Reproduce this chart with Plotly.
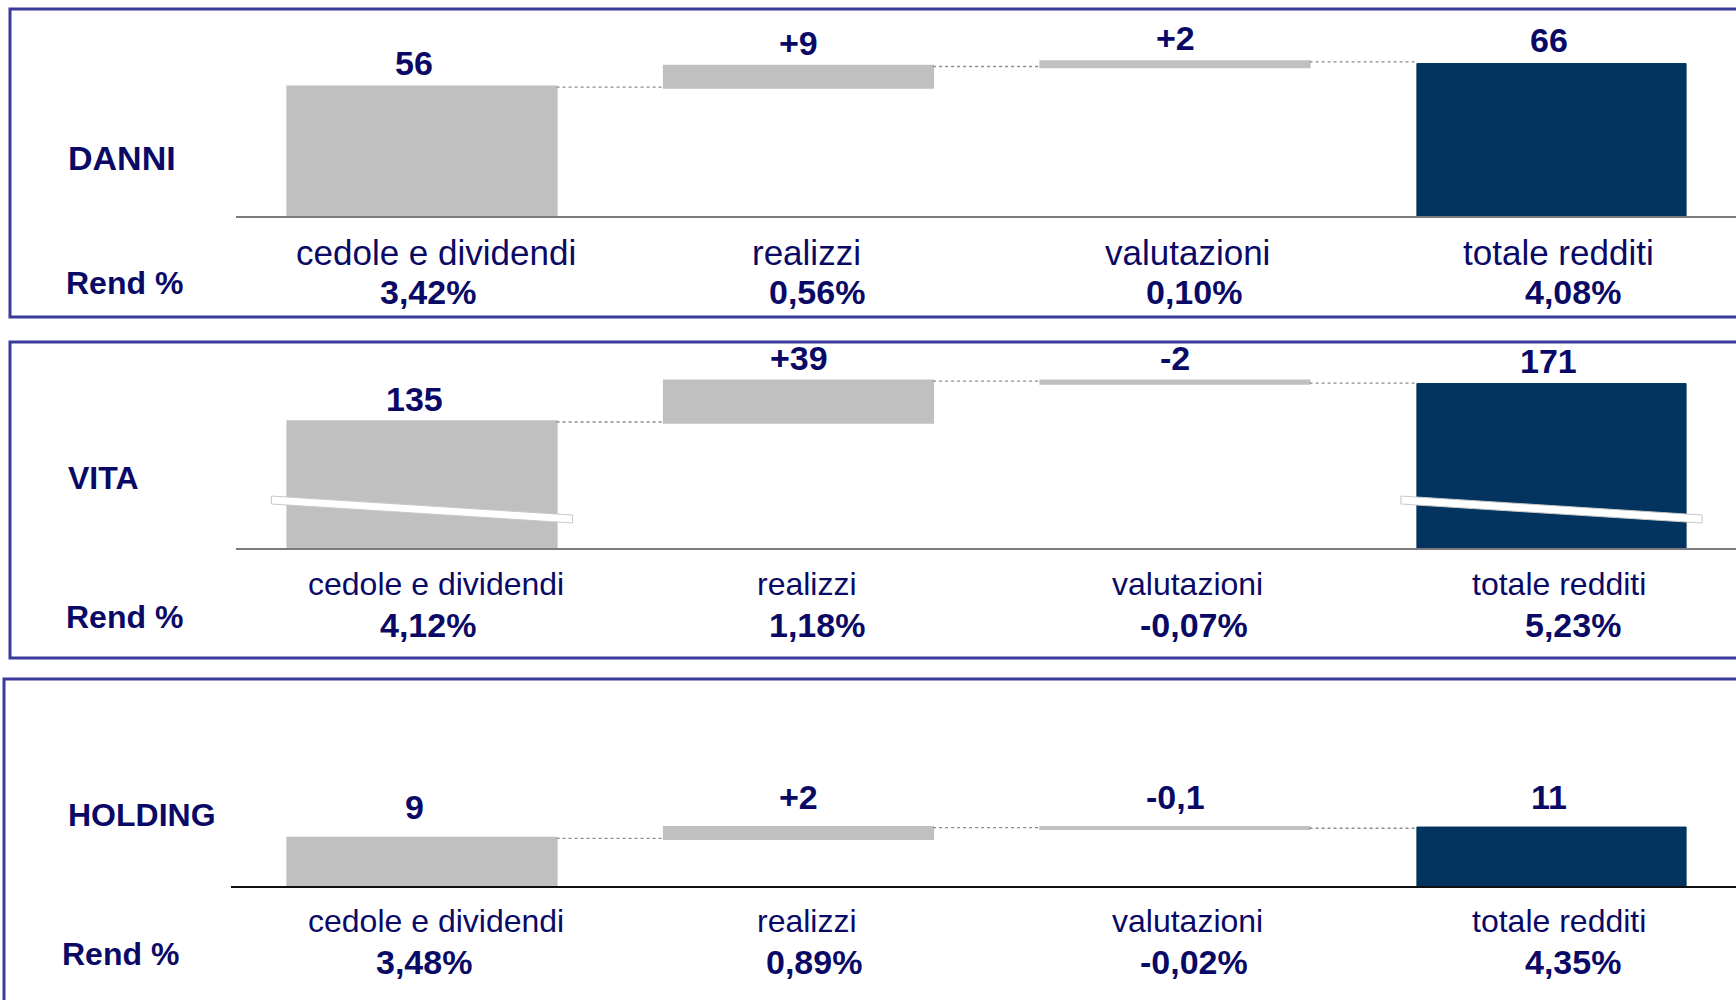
import plotly.graph_objects as go

# ---------------- data ----------------
categories = ["cedole e dividendi", "realizzi", "valutazioni", "totale redditi"]
measures = ["relative", "relative", "relative", "absolute"]

danni_values = [56, 9, 2, 66]
vita_values = [135, 39, -2, 171]
holding_values = [9, 2, -0.1, 11]

danni_rend = ["3,42%", "0,56%", "0,10%", "4,08%"]
vita_rend = ["4,12%", "1,18%", "-0,07%", "5,23%"]
holding_rend = ["3,48%", "0,89%", "-0,02%", "4,35%"]

segment_names = ["DANNI", "VITA", "HOLDING"]
rend_label = "Rend %"

# ---------------- styles / layout ----------------
W, H = 1736, 1000
FONT = "Liberation Sans, Arial, sans-serif"
NAVY_TXT = "#0a0a66"
GREY_BAR = "#c0c0c0"
NAVY_BAR = "#02345f"
FRAME = "#3a3a9a"

PX_PER_CAT = 376.5
CENTER0 = 422
cat_xshift = [14, 8, 12, 7]
pct_xshift = [6, 18, 19, 21]
val_xshift = [-8, 0, 0, -3]

panel_styles = [
    dict(frame=(10, 9, 317), top=20, base=216, ymin=0, pxu=2.3, name_y=158, rend_y=283,
         cat_y=252, pct_y=292, name_size=34, cat_size=35, x_left=236, line="#7a7a7a", lw=2,
         name_x=66, rend_x=64, brk=False, val_dy=3, pct_adj=[0, 0, 0, 0]),
    dict(frame=(10, 342, 658), top=345, base=548, ymin=15, pxu=1.05, name_y=478, rend_y=617,
         cat_y=584, pct_y=625, name_size=32, cat_size=32, x_left=236, line="#7a7a7a", lw=2,
         name_x=66, rend_x=64, brk=True, val_dy=2, pct_adj=[0, 0, 0, 0]),
    dict(frame=(4, 679, 1020), top=690, base=886, ymin=0, pxu=5.3, name_y=815, rend_y=954,
         cat_y=921, pct_y=962, name_size=32, cat_size=32, x_left=231, line="#111111", lw=1.5,
         name_x=66, rend_x=60, brk=False, val_dy=10, pct_adj=[-4, -3, 0, 0]),
]

all_values = [danni_values, vita_values, holding_values]
all_rend = [danni_rend, vita_rend, holding_rend]


def fmt_label(v, m, i):
    s = f"{v:g}".replace(".", ",")
    if m == "relative" and i > 0 and v > 0:
        s = "+" + s
    return s


fig = go.Figure()
annotations = []
shapes = []
layout_axes = {}

for p, (name, vals, rend, st) in enumerate(zip(segment_names, all_values, all_rend, panel_styles)):
    sfx = "" if p == 0 else str(p + 1)
    xa, ya = "x" + sfx, "y" + sfx

    fig.add_trace(go.Waterfall(
        x=list(range(len(categories))), y=vals, measure=measures,
        width=0.715, textinfo="none", hoverinfo="skip",
        increasing=dict(marker=dict(color=GREY_BAR, line=dict(color=GREY_BAR, width=2))),
        decreasing=dict(marker=dict(color=GREY_BAR, line=dict(color=GREY_BAR, width=2))),
        totals=dict(marker=dict(color=NAVY_BAR, line=dict(color=NAVY_BAR, width=1))),
        connector=dict(line=dict(color="#8c8c8c", width=1.3, dash="dot")),
        xaxis=xa, yaxis=ya, showlegend=False,
    ))

    # axes
    ytop = st["ymin"] + (st["base"] - st["top"]) / st["pxu"]
    layout_axes["xaxis" + sfx] = dict(
        domain=[st["x_left"] / W, 1],
        range=[(st["x_left"] - CENTER0) / PX_PER_CAT, (W - CENTER0) / PX_PER_CAT],
        showline=True, linecolor=st["line"], linewidth=st["lw"], showgrid=False,
        zeroline=False, showticklabels=False, ticks="", anchor=ya, fixedrange=True)
    layout_axes["yaxis" + sfx] = dict(
        domain=[1 - st["base"] / H, 1 - st["top"] / H], range=[st["ymin"], ytop],
        visible=False, anchor=xa, fixedrange=True)

    # value labels above bars
    cum = 0
    for i, (v, m) in enumerate(zip(vals, measures)):
        if m == "absolute":
            start, end = 0, v
        else:
            start, end = cum, cum + v
        cum = end
        annotations.append(dict(
            x=i, y=max(start, end), xref=xa, yref=ya, text=fmt_label(v, m, i),
            showarrow=False, yanchor="bottom", yshift=st["val_dy"], xshift=val_xshift[i],
            font=dict(family=FONT, size=34, color=NAVY_TXT, weight="bold")))

    # category and percentage labels
    for i, c in enumerate(categories):
        annotations.append(dict(
            x=i, xshift=cat_xshift[i], y=1 - st["cat_y"] / H, xref=xa, yref="paper",
            text=c, showarrow=False, yanchor="middle",
            font=dict(family=FONT, size=st["cat_size"], color=NAVY_TXT)))
        annotations.append(dict(
            x=i, xshift=pct_xshift[i] + st["pct_adj"][i], y=1 - st["pct_y"] / H,
            xref=xa, yref="paper", text=rend[i], showarrow=False, yanchor="middle",
            font=dict(family=FONT, size=34, color=NAVY_TXT, weight="bold")))

    # segment name and "Rend %"
    annotations.append(dict(
        x=st["name_x"] / W, y=1 - st["name_y"] / H, xref="paper", yref="paper",
        text=name, showarrow=False, xanchor="left", yanchor="middle",
        font=dict(family=FONT, size=st["name_size"], color=NAVY_TXT, weight="bold")))
    annotations.append(dict(
        x=st["rend_x"] / W, y=1 - st["rend_y"] / H, xref="paper", yref="paper",
        text=rend_label, showarrow=False, xanchor="left", yanchor="middle",
        font=dict(family=FONT, size=32, color=NAVY_TXT, weight="bold")))

    # frame
    fx, fy0, fy1 = st["frame"]
    shapes.append(dict(type="rect", xref="paper", yref="paper",
                       x0=fx / W, x1=1.02, y0=1 - fy1 / H, y1=1 - fy0 / H,
                       line=dict(color=FRAME, width=3), fillcolor="rgba(0,0,0,0)",
                       layer="below"))

    # axis-break marks on the first and total bars (broken scale)
    if st["brk"]:
        for i in (0, len(categories) - 1):
            yl = st["ymin"] + 49.5
            yr = st["ymin"] + 31.4
            th = 7.6
            x0, x1 = i - 0.40, i + 0.40
            path = (f"M {x0},{yl} L {x1},{yr} L {x1},{yr - th} "
                    f"L {x0},{yl - th} Z")
            shapes.append(dict(type="path", xref=xa, yref=ya, path=path,
                               fillcolor="white", line=dict(color="#c8c8c8", width=1),
                               layer="above"))

fig.update_layout(
    width=W, height=H, margin=dict(l=0, r=0, t=0, b=0),
    paper_bgcolor="white", plot_bgcolor="rgba(0,0,0,0)",
    annotations=annotations, shapes=shapes, showlegend=False,
    **layout_axes,
)

fig.write_html(
    "out.html",
    config={"displayModeBar": False},
    post_script="document.body.style.margin='0';document.body.style.overflow='hidden';",
)
